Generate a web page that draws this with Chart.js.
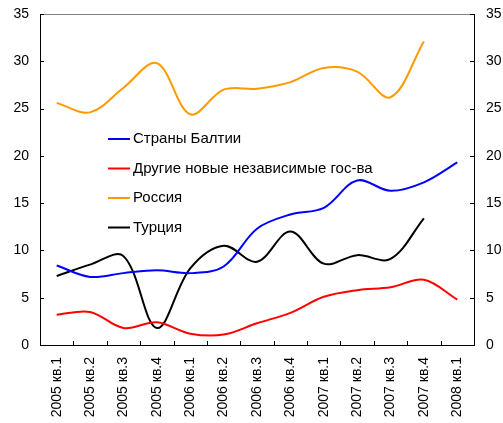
<!DOCTYPE html>
<html>
<head>
<meta charset="utf-8">
<script src="https://cdn.jsdelivr.net/npm/chart.js@4/dist/chart.umd.min.js"></script>
<style>
  html, body { margin: 0; padding: 0; background: #fff; }
  #wrap { width: 503px; height: 423px; }
</style>
</head>
<body>
<div id="wrap"><canvas id="myChart"></canvas></div>
<script>
var quarters = ["2005 кв.1", "2005 кв.2", "2005 кв.3", "2005 кв.4", "2006 кв.1", "2006 кв.2", "2006 кв.3",
  "2006 кв.4", "2007 кв.1", "2007 кв.2", "2007 кв.3", "2007 кв.4", "2008 кв.1"];
var baltics = [8.4, 7.2, 7.6, 7.9, 7.6, 8.3, 12.3, 13.8, 14.5, 17.4, 16.3, 17.2, 19.3];
var otherCis = [3.2, 3.5, 1.8, 2.4, 1.2, 1.1, 2.3, 3.4, 5.1, 5.8, 6.1, 6.9, 4.8];
var russia = [25.6, 24.6, 27.2, 29.8, 24.4, 27.0, 27.1, 27.8, 29.3, 28.9, 26.2, 32.1, null];
var turkey = [7.3, 8.5, 9.4, 1.8, 8.1, 10.5, 8.8, 12.0, 8.6, 9.5, 9.1, 13.4, null];
var yTicks = [0, 5, 10, 15, 20, 25, 30, 35];

var font = "Liberation Sans, Arial, sans-serif";

// legend inside the plot and inward tick marks
var extras = {
  id: "extras",
  afterDraw: function (chart) {
    var c = chart.ctx;
    var a = chart.chartArea;
    var x = chart.scales.x;
    var y = chart.scales.y;
    c.save();
    c.lineWidth = 1;
    c.strokeStyle = "#808080";
    c.beginPath();
    c.moveTo(a.left, a.top + 0.5);
    c.lineTo(a.right, a.top + 0.5);
    c.stroke();
    c.strokeStyle = "#000";
    c.beginPath();
    for (var i = 1; i < quarters.length; i++) {
      var px = Math.round((x.getPixelForTick(i - 1) + x.getPixelForTick(i)) / 2) + 0.5;
      c.moveTo(px, a.bottom);
      c.lineTo(px, a.bottom - 4);
    }
    for (var j = 0; j < yTicks.length; j++) {
      var py = Math.round(y.getPixelForValue(yTicks[j])) + 0.5;
      c.moveTo(a.left, py);
      c.lineTo(a.left + 4, py);
      c.moveTo(a.right, py);
      c.lineTo(a.right - 4, py);
    }
    c.stroke();

    var ds = chart.data.datasets;
    c.font = "15px " + font;
    c.textBaseline = "middle";
    c.fillStyle = "#000";
    for (var k = 0; k < ds.length; k++) {
      var ly = 139 + k * 29.5;
      c.strokeStyle = ds[k].borderColor;
      c.lineWidth = 2;
      c.beginPath();
      c.moveTo(108, ly);
      c.lineTo(130, ly);
      c.stroke();
      c.fillText(ds[k].label, 133, ly);
    }
    c.restore();
  }
};

function line(label, data, color) {
  return {
    label: label,
    data: data,
    borderColor: color,
    backgroundColor: color,
    borderWidth: 2,
    pointRadius: 0,
    tension: 0.35,
    fill: false,
    spanGaps: false
  };
}

new Chart(document.getElementById("myChart"), {
  type: "line",
  data: {
    labels: quarters,
    datasets: [
      line("Страны Балтии", baltics, "#0000ff"),
      line("Другие новые независимые гос-ва", otherCis, "#ff0000"),
      line("Россия", russia, "#ff9900"),
      line("Турция", turkey, "#000000")
    ]
  },
  options: {
    responsive: true,
    maintainAspectRatio: false,
    animation: false,
    layout: { padding: { top: 14, left: 0, right: 0, bottom: 0 } },
    plugins: { legend: { display: false }, tooltip: { enabled: false } },
    scales: {
      x: {
        offset: true,
        grid: { display: false, drawTicks: false },
        border: { color: "#000", width: 1 },
        ticks: {
          color: "#000",
          font: { family: font, size: 14 },
          minRotation: 90,
          maxRotation: 90,
          padding: 12,
          autoSkip: false
        },
        afterFit: function (s) { s.height = 78; }
      },
      y: {
        min: 0,
        max: 35,
        position: "left",
        grid: { display: false, drawTicks: false },
        border: { color: "#000", width: 1 },
        ticks: { stepSize: 5, color: "#000", font: { family: font, size: 14 }, padding: 11 },
        afterFit: function (s) { s.width = 40; s.paddingTop = 0; }
      },
      y2: {
        min: 0,
        max: 35,
        position: "right",
        grid: { display: false, drawTicks: false },
        border: { color: "#000", width: 1 },
        ticks: { stepSize: 5, color: "#000", font: { family: font, size: 14 }, padding: 12 },
        afterFit: function (s) { s.width = 29; s.paddingTop = 0; }
      }
    }
  },
  plugins: [extras]
});
</script>
</body>
</html>
